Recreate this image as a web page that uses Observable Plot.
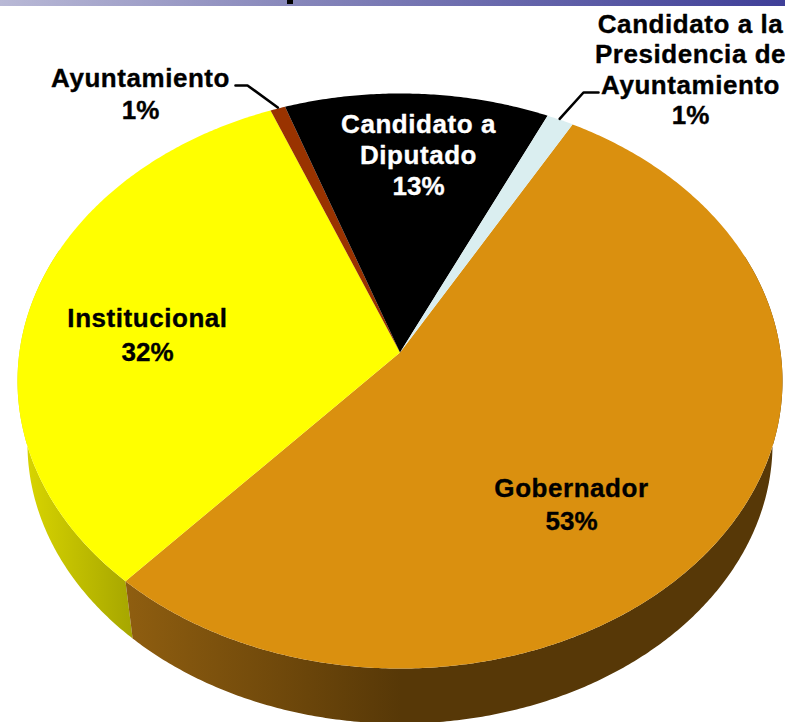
<!DOCTYPE html>
<html><head><meta charset="utf-8">
<script src="https://cdn.jsdelivr.net/npm/d3@7"></script>
<script src="https://cdn.jsdelivr.net/npm/@observablehq/plot@0.6"></script>
<style>html,body{margin:0;padding:0;background:#fff}svg{display:block}</style>
</head><body><div id="chart"></div>
<script>
const categories = ["Gobernador","Institucional","Ayuntamiento","Candidato a Diputado","Candidato a la Presidencia de Ayuntamiento"];
const shares = [53.45,32.3,0.7,12.3,1.25];
const percentLabels = ["53%","32%","1%","13%","1%"];
const labelLines = [["Gobernador"],["Institucional"],["Ayuntamiento"],["Candidato a","Diputado"],["Candidato a la","Presidencia de","Ayuntamiento"]];
const sliceColors = ["#da900f","#ffff00","#993300","#000000","#daeef0"];
const labelColors = ["#000","#000","#000","#fff","#000"];

// pie geometry (perspective disc), in picture pixels
const W=785,H=722, cx=399.5, cy=352, a=380.6, b=284.7, k=-0.0991, startDeg=29.5;
const rimDepth={cx:399.5,cyTop:380.5,cyBot:443,s:0.974};
const project=(deg,r=1)=>{const t=deg*Math.PI/180,u=r*Math.sin(t),v=-r*Math.cos(t),w=1+k*v;return [cx+a*u/w,cy+b*v/w];};
const lower=([x,y])=>[rimDepth.cx+rimDepth.s*(x-rimDepth.cx),rimDepth.cyBot+rimDepth.s*(y-rimDepth.cyTop)];
const total=d3.sum(shares);
let acc=startDeg;
const slices=categories.map((name,i)=>{const s=acc,e=acc+shares[i]/total*360;acc=e;return {name,i,s,e,mid:(s+e)/2};});
const arc=(s,e)=>{const n=Math.max(2,Math.ceil((e-s)/0.5));return d3.range(n+1).map(j=>project(s+(e-s)*j/n));};

const topPts=slices.flatMap(d=>[[cx,cy],...arc(d.s,d.e),[cx,cy]].map(([x,y])=>({x,y,z:d.name,fill:sliceColors[d.i]})));
const sideBand=(s,e,id)=>{const t=arc(s,e);return [...t,...t.map(lower).reverse()].map(([x,y])=>({x,y,z:id}));};
const sideO=sideBand(slices[0].s+40,slices[0].e,"o");
const sideY=sideBand(slices[1].s,slices[1].s+70,"y");

// label layout: anchor on the slice plus a pixel offset
const labelAnchor=[.6,.6,1,.6,1];
const labelCenter=[[571,488],[147,318],[140,78],[418,124],[690,24]];
const lineGap=[33,34,32,31,30.5];
const lab=[];
slices.forEach(d=>{
  const [ax,ay]=project(d.mid,labelAnchor[d.i]);
  const ox=labelCenter[d.i][0]-ax, oy=labelCenter[d.i][1]-ay;
  [...labelLines[d.i],percentLabels[d.i]].forEach((t,j)=>lab.push({x:ax+ox,y:ay+oy+j*lineGap[d.i],t,c:labelColors[d.i]}));
});
const rimL=project(slices[2].mid), rimR=project(slices[4].mid);
const leaders=[
 [[235,85],[247,85],[rimL[0],rimL[1]-1]].map(([x,y])=>({x,y,z:"l"})),
 [[598,92],[583,92],[rimR[0]-0.5,rimR[1]-1]].map(([x,y])=>({x,y,z:"r"}))
].flat();

const chart=Plot.plot({
  width:W,height:H,margin:0,
  x:{domain:[0,W],range:[0,W],axis:null},
  y:{domain:[0,H],range:[0,H],axis:null},
  marks:[
    Plot.rect([{x1:0,x2:W,y1:0,y2:6}],{x1:"x1",x2:"x2",y1:"y1",y2:"y2",fill:"url(#bar)"}),
    Plot.rect([{x1:287,x2:293,y1:0,y2:4}],{x1:"x1",x2:"x2",y1:"y1",y2:"y2",fill:"#000"}),
    Plot.line(sideY,{x:"x",y:"y",z:"z",curve:"linear-closed",fill:"url(#sy)",stroke:"none"}),
    Plot.line(sideO,{x:"x",y:"y",z:"z",curve:"linear-closed",fill:"url(#so)",stroke:"none"}),
    Plot.line(topPts,{x:"x",y:"y",z:"z",curve:"linear-closed",fill:"fill",stroke:"none"}),
    Plot.line(leaders,{x:"x",y:"y",z:"z",stroke:"#000",strokeWidth:2.6,curve:"linear"}),
    Plot.text(lab,{x:"x",y:"y",text:"t",fill:"c",stroke:"c",strokeWidth:0.35,fontFamily:"Liberation Sans",fontWeight:"bold",fontSize:26,textAnchor:"middle",lineAnchor:"middle"})
  ]
});
d3.select(chart).selectAll("text").filter(function(){return !this.textContent.endsWith("%");}).style("letter-spacing","0.55px");
const defs=d3.select(chart).insert("defs",":first-child");
const grad=(id,stops)=>{const g=defs.append("linearGradient").attr("id",id).attr("x1",0).attr("x2",1).attr("y1",0).attr("y2",0);
  stops.forEach(([o,c])=>g.append("stop").attr("offset",o).attr("stop-color",c));};
grad("bar",[[0,"#b9b9d6"],[0.38,"#8686ba"],[1,"#3f3f98"]]);
grad("sy",[[0,"#dcd800"],[1,"#a6a600"]]);
grad("so",[[0,"#8f5e10"],[0.42,"#573807"],[1,"#573807"]]);
document.getElementById("chart").append(chart);
</script></body></html>
